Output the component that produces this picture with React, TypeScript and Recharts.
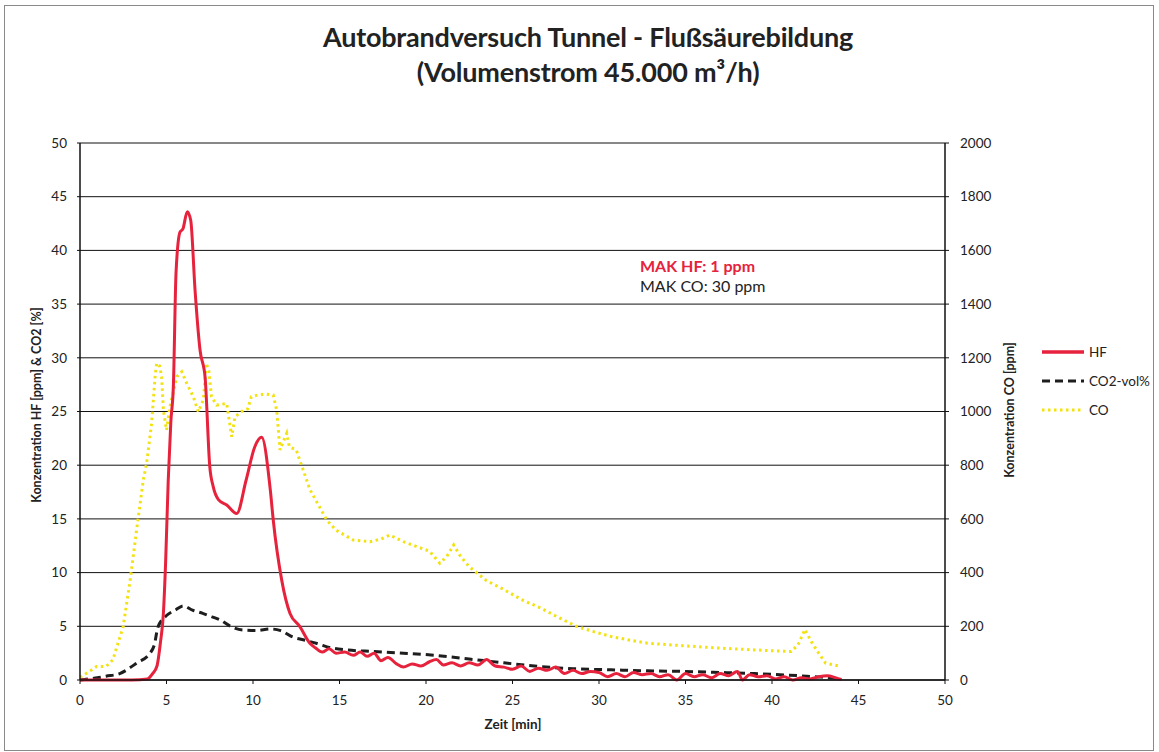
import React from "react";
import {
  LineChart,
  Line,
  XAxis,
  YAxis,
  CartesianGrid,
} from "recharts";

// Zeit [min] / HF [ppm]
const hfTime = [
  0, 1, 2, 3, 3.9, 4.2, 4.45, 4.65, 4.82, 4.95, 5.1, 5.25, 5.4, 5.55, 5.78, 5.95, 6.2, 6.4, 6.65, 6.94,
  7.23, 7.5, 7.7, 8.0, 8.48, 9.06, 9.6, 10.1, 10.5, 11.0, 11.17, 11.66, 12.14, 12.7, 13.3, 13.6, 14.0,
  14.4, 14.8, 15.3, 15.8, 16.2, 16.6, 17.0, 17.4, 17.8, 18.3, 18.7, 19.2, 19.7, 20.2, 20.6, 21.0, 21.5,
  22.0, 22.5, 23.0, 23.5, 24.0, 24.5, 25.0, 25.5, 26.0, 26.5, 27.0, 27.5, 28.0, 28.5, 29.0, 29.5, 30.0,
  30.5, 31.0, 31.5, 32.0, 32.5, 33.0, 33.5, 34.0, 34.5, 35.0, 35.5, 36.0, 36.5, 37.0, 37.5, 38.0, 38.3,
  38.7, 39.2, 39.7, 40.2, 40.7, 41.2, 41.7, 42.2, 42.7, 43.2, 43.7, 44.0,
];
const hfValues = [
  0, 0, 0, 0, 0.1, 0.6, 1.3, 3.5, 6.2, 11, 18.6, 24, 27.5, 37.9, 41.7, 42.0, 43.6, 42.8, 36.3, 30.7,
  28.2, 19.9, 18.0, 16.8, 16.3, 15.5, 18.6, 21.7, 22.6, 17.7, 14.9, 9.3, 6.2, 5.0, 3.4, 3.0, 2.6,
  2.9, 2.5, 2.6, 2.3, 2.6, 2.2, 2.5, 1.8, 2.1, 1.5, 1.2, 1.5, 1.3, 1.7, 1.9, 1.4, 1.6,
  1.3, 1.6, 1.4, 1.9, 1.3, 1.2, 1.0, 1.3, 0.8, 1.1, 0.9, 1.2, 0.6, 0.9, 0.6, 0.8, 0.7,
  0.3, 0.6, 0.3, 0.7, 0.5, 0.6, 0.3, 0.5, 0.0, 0.6, 0.3, 0.5, 0.2, 0.6, 0.4, 0.8, 0.0,
  0.5, 0.3, 0.4, 0.1, 0.3, 0.0, 0.2, 0.1, 0.3, 0.4, 0.2, 0.05,
];

// Zeit [min] / CO2 [vol%]
const co2Time = [
  0, 0.5, 1, 1.5, 2.3, 3.3, 4.05, 4.3, 4.5, 5.0, 5.5, 5.97, 6.5, 7.1, 7.6, 8.1, 8.7, 9.4, 10.2, 11.0,
  11.6, 12.3, 13.0, 13.7, 14.5, 15.4, 17, 18.7, 20.5, 22.5, 24.5, 26.6, 28.5, 30.7, 32.8, 34.9, 37, 39,
  41, 42.5, 43.5, 44,
];
const co2Values = [
  0, 0.1, 0.2, 0.35, 0.6, 1.6, 2.5, 3.3, 4.9, 6.0, 6.5, 6.9, 6.5, 6.2, 5.9, 5.6, 5.0, 4.65, 4.6, 4.75,
  4.6, 4.0, 3.7, 3.4, 3.0, 2.8, 2.65, 2.5, 2.3, 1.95, 1.6, 1.25, 1.05, 0.95, 0.85, 0.8, 0.7, 0.6,
  0.45, 0.3, 0.2, 0.05,
];

// Zeit [min] / CO [ppm]
const coTime = [
  0, 0.5, 0.96, 1.5, 1.9, 2.5, 2.9, 3.27, 3.66, 3.85, 4.14, 4.34, 4.43, 4.6, 4.72, 4.82, 5.0, 5.2, 5.6,
  5.88, 6.17, 6.55, 6.84, 7.13, 7.3, 7.45, 7.6, 7.9, 8.48, 8.77, 8.96, 9.44, 9.7, 9.9, 10.2, 10.7, 11.17,
  11.37, 11.56, 11.95, 12.1, 12.5, 12.9, 13.3, 13.8, 14.26, 14.8, 15.8, 16.76, 17.4, 17.9, 18.7, 19.5,
  20.2, 20.8, 21.2, 21.6, 22.0, 22.5, 23.5, 24.5, 25.5, 26.6, 27.6, 28.7, 29.7, 30.7, 31.8, 32.8, 34.8,
  36.9, 39, 41.1, 41.5, 41.9, 42.3, 42.7, 43.1, 44,
];
const coValues = [
  10, 30, 50, 50, 75, 200, 372, 558, 745, 807, 956, 1130, 1180, 1170, 1130, 1005, 931, 1018, 1130,
  1148, 1105, 1055, 999, 1043, 1180, 1150, 1055, 1024, 1030, 906, 980, 1005, 1010, 1055, 1060, 1065, 1061,
  1005, 857, 919, 869, 857, 782, 708, 650, 596, 558, 521, 515, 525, 540, 515, 496,
  480, 435, 460, 503, 460, 422, 370, 337, 300, 269, 235, 200, 180, 162, 148, 137, 128,
  119, 112, 106, 130, 188, 140, 100, 63, 50,
];

const xTicks = [0, 5, 10, 15, 20, 25, 30, 35, 40, 45, 50];
const leftTicks = [0, 5, 10, 15, 20, 25, 30, 35, 40, 45, 50];
const rightTicks = [0, 200, 400, 600, 800, 1000, 1200, 1400, 1600, 1800, 2000];

const hfData = hfTime.map((t, i) => ({ t, hf: hfValues[i] }));
const co2Data = co2Time.map((t, i) => ({ t, co2: co2Values[i] }));
const coData = coTime.map((t, i) => ({ t, co: coValues[i] }));

const RED = "#e6223c";
const BLACK = "#1e1e1e";
const YELLOW = "#f3e212";
const FONT = "Lato, 'Open Sans', sans-serif";

const tickStyle = { fontSize: 13.5, fill: "#222", fontFamily: FONT };

const legendItems = [
  { name: "HF", color: RED, dash: undefined as string | undefined, width: 3.5 },
  { name: "CO2-vol%", color: BLACK, dash: "8 5", width: 3 },
  { name: "CO", color: YELLOW, dash: "2.5 3.5", width: 3 },
];

const axisTitle: React.CSSProperties = {
  position: "absolute",
  whiteSpace: "nowrap",
  fontSize: 12.5,
  fontWeight: 700,
  color: "#222",
  lineHeight: "16px",
};

export default function App() {
  return (
    <div
      style={{
        position: "absolute",
        left: 0,
        top: 0,
        width: 1159,
        height: 752,
        background: "#fff",
        fontFamily: FONT,
        overflow: "hidden",
      }}
    >
      <div
        style={{
          position: "absolute",
          left: 4,
          top: 5,
          width: 1148,
          height: 744,
          border: "1px solid #8a8a8a",
        }}
      />
      <div
        style={{
          position: "absolute",
          left: 0,
          width: 1176,
          top: 19,
          textAlign: "center",
          fontSize: 27,
          fontWeight: 700,
          lineHeight: "35px",
          color: "#222",
          letterSpacing: -0.2,
        }}
      >
        <div>Autobrandversuch Tunnel - Flußsäurebildung</div>
        <div>(Volumenstrom 45.000 m³/h)</div>
      </div>

      <LineChart
        width={1159}
        height={752}
        margin={{ top: 143, right: 164, bottom: 42, left: 30 }}
        style={{ position: "absolute", left: 0, top: 0 }}
      >
        <CartesianGrid
          yAxisId="left"
          vertical={false}
          stroke="#111"
          strokeWidth={1}
        />
        <XAxis
          dataKey="t"
          type="number"
          domain={[0, 50]}
          ticks={xTicks}
          allowDuplicatedCategory={false}
          axisLine={{ stroke: "#111", strokeWidth: 1.5 }}
          tickLine={{ stroke: "#111" }}
          tickSize={4}
          tickMargin={11}
          tick={tickStyle}
          height={30}
        />
        <YAxis
          yAxisId="left"
          domain={[0, 50]}
          ticks={leftTicks}
          axisLine={{ stroke: "#111", strokeWidth: 1.5 }}
          tickLine={{ stroke: "#111" }}
          tickSize={3}
          tickMargin={10}
          tick={tickStyle}
          width={50}
        />
        <YAxis
          yAxisId="right"
          orientation="right"
          domain={[0, 2000]}
          ticks={rightTicks}
          axisLine={{ stroke: "#111", strokeWidth: 1.5 }}
          tickLine={{ stroke: "#111" }}
          tickSize={4}
          tickMargin={11}
          tick={tickStyle}
          width={50}
        />
        <Line
          yAxisId="right"
          data={coData}
          dataKey="co"
          type="linear"
          stroke={YELLOW}
          strokeWidth={3}
          strokeDasharray="2.5 3.5"
          dot={false}
          isAnimationActive={false}
        />
        <Line
          yAxisId="left"
          data={co2Data}
          dataKey="co2"
          type="monotone"
          stroke={BLACK}
          strokeWidth={3}
          strokeDasharray="8 5"
          dot={false}
          isAnimationActive={false}
        />
        <Line
          yAxisId="left"
          data={hfData}
          dataKey="hf"
          type="monotone"
          stroke={RED}
          strokeWidth={3}
          dot={false}
          isAnimationActive={false}
        />
      </LineChart>

      {/* axis titles */}
      <div
        style={{
          ...axisTitle,
          left: 37,
          top: 405,
          transform: "translate(-50%, -50%) rotate(-90deg)",
        }}
      >
        Konzentration HF [ppm] &amp; CO2 [%]
      </div>
      <div
        style={{
          ...axisTitle,
          left: 1010,
          top: 410,
          transform: "translate(-50%, -50%) rotate(-90deg)",
        }}
      >
        Konzentration CO [ppm]
      </div>
      <div
        style={{
          ...axisTitle,
          left: 513,
          top: 724,
          fontSize: 13.5,
          transform: "translate(-50%, -50%)",
        }}
      >
        Zeit [min]
      </div>

      {/* annotation */}
      <div
        style={{
          position: "absolute",
          left: 640,
          top: 256,
          fontSize: 16,
          lineHeight: "20px",
          color: "#222",
        }}
      >
        <div style={{ color: RED, fontWeight: 700 }}>MAK HF: 1 ppm</div>
        <div>MAK CO: 30 ppm</div>
      </div>

      {/* legend */}
      <div style={{ position: "absolute", left: 1040, top: 337 }}>
        {legendItems.map((item) => (
          <div
            key={item.name}
            style={{ display: "flex", alignItems: "center", height: 29, fontSize: 13.5, color: "#222" }}
          >
            <svg width={46} height={10}>
              <line
                x1={2}
                y1={5}
                x2={44}
                y2={5}
                stroke={item.color}
                strokeWidth={item.width}
                strokeDasharray={item.dash}
              />
            </svg>
            <span style={{ marginLeft: 3 }}>{item.name}</span>
          </div>
        ))}
      </div>
    </div>
  );
}
